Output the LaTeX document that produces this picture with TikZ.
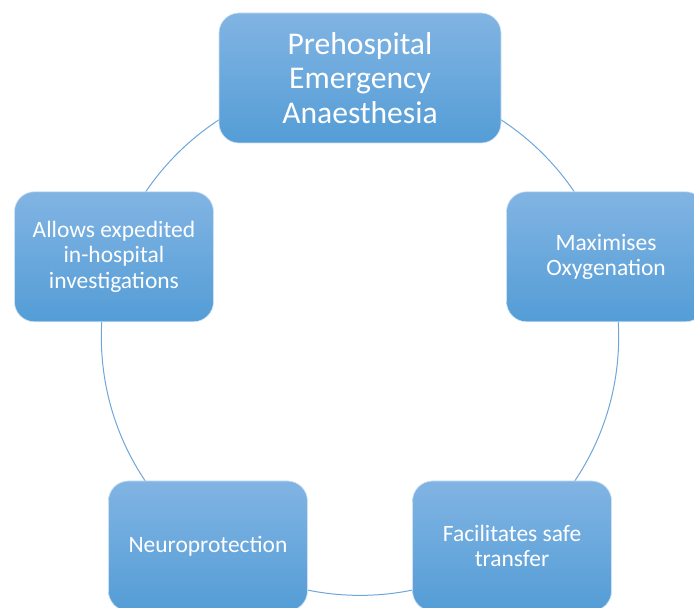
\documentclass[tikz,border=0pt]{standalone}
\usepackage{fontspec}
\setmainfont{Carlito}
\usepackage{xcolor}

\definecolor{boxtop}{RGB}{129,180,227}
\definecolor{boxbot}{RGB}{84,157,214}
\definecolor{ringcol}{RGB}{110,165,218}

\tikzset{
    stepcard/.style={rounded corners=15pt, top color=boxtop, bottom color=boxbot,
        draw=white!60!boxtop, line width=0.5pt, text=white, align=center,
        minimum width=149.25pt, minimum height=97.5pt, inner sep=2pt,
        font=\fontsize{17.6}{19.2}\selectfont},
    hubcard/.style={stepcard, minimum width=211.5pt,
        font=\fontsize{23.7}{25.9}\selectfont}
}

\begin{document}
\begin{tikzpicture}[x=0.75pt, y=0.75pt]
        \useasboundingbox (0,0) rectangle (694,608);
        \clip (0,0) rectangle (694,608);

        % Kreis
        \coordinate (c) at (360,271.3);
        \draw[ringcol, line width=0.75pt] (c) circle[radius=194pt];

        % Mitte oben
        \node[hubcard] (pea) at ([shift={(90:258.7)}]c) {Prehospital\\Emergency\\Anaesthesia};

        % Ringsum
        \node[stepcard] (oxy) at ([shift={(18:258.7)}]c) {Maximises\\Oxygenation};
        \node[stepcard] (transfer) at ([shift={(-54:258.7)}]c) {Facilitates safe\\transfer};
        \node[stepcard] (neuro) at ([shift={(234:258.7)}]c) {Neuroprotection};
        \node[stepcard] (invest) at ([shift={(162:258.7)}]c) {Allows expedited\\in-hospital\\investigations};
    \end{tikzpicture}
\end{document}
